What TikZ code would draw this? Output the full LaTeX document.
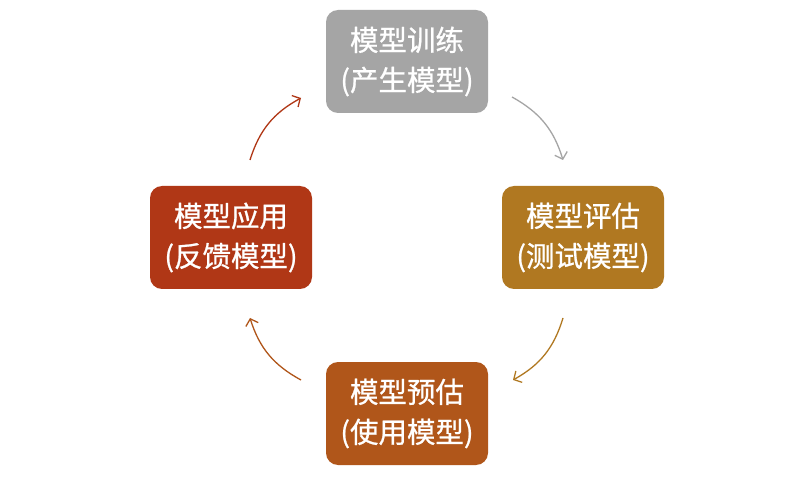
\documentclass[tikz,border=0pt]{standalone}
\usepackage{fontspec}
\newfontfamily\cjk{Noto Sans CJK SC}[FakeBold=0.8]
\usetikzlibrary{arrows.meta}
\definecolor{cgray}{HTML}{A5A5A5}
\definecolor{cgold}{HTML}{B07821}
\definecolor{corange}{HTML}{B0561A}
\definecolor{cred}{HTML}{B03716}
\tikzset{
  box/.style={rounded corners=12pt, minimum width=162pt, minimum height=103pt, inner sep=0pt,
    text=white, align=center, font=\cjk\fontsize{28.5}{40}\selectfont},
  cyc/.style={line width=1.3pt, -{Straight Barb[length=6pt,width=13pt]}, bend left=22},
}
\begin{document}
\begin{tikzpicture}[x=1pt,y=1pt]
\useasboundingbox (0,0) rectangle (812,480);
\fill[white] (0,0) rectangle (812,480);
\node[box, fill=cgray]   (train) at (407,418.5) {模型训练\\(产生模型)};
\node[box, fill=cgold]   (eval)  at (583,242.5) {模型评估\\(测试模型)};
\node[box, fill=corange] (pred)  at (407,66.5)  {模型预估\\(使用模型)};
\node[box, fill=cred]    (app)   at (231,242.5) {模型应用\\(反馈模型)};
\coordinate (a1) at (512,383); \coordinate (a2) at (563,320);
\coordinate (b1) at (563,162); \coordinate (b2) at (513,100);
\coordinate (c1) at (301,100); \coordinate (c2) at (250,162);
\coordinate (d1) at (250,320); \coordinate (d2) at (301,382);
\draw[cyc, draw=cgray]   (a1) to (a2);
\draw[cyc, draw=cgold]   (b1) to (b2);
\draw[cyc, draw=corange] (c1) to (c2);
\draw[cyc, draw=cred]    (d1) to (d2);
\end{tikzpicture}
\end{document}
